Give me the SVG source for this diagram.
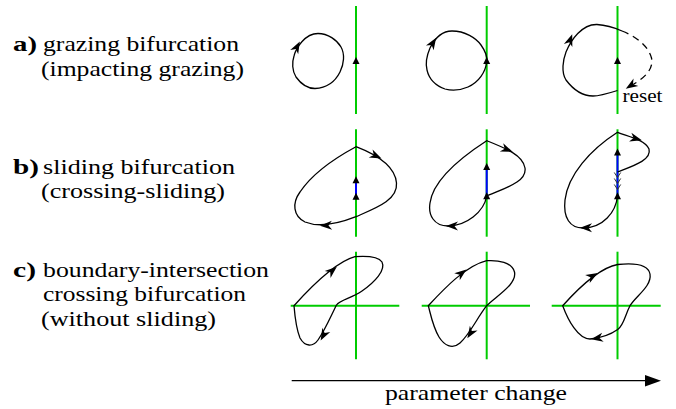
<svg xmlns="http://www.w3.org/2000/svg" xmlns:xlink="http://www.w3.org/1999/xlink" width="676" height="409" viewBox="0 0 676 409">
<style>
.t{font-family:'Liberation Serif','DejaVu Serif','Times New Roman',serif;font-size:22px;fill:#000}
.b{font-weight:bold}
.g{stroke:#00cc00;stroke-width:2;fill:none}
.bl{stroke:#0000ff;stroke-width:2;fill:none}
.c{stroke:#000;stroke-width:1.3;fill:none}
.d{stroke:#000;stroke-width:1.3;fill:none;stroke-dasharray:7 5}
.ch{stroke:#333;stroke-width:1;fill:none}
</style>
<defs>
<path id="ah" d="M 5,0 L -7,-4.5 L -3.5,0 L -7,4.5 Z" fill="#000"/>
<path id="tr" d="M 0,-3.8 L 3.5,3.2 L -3.5,3.2 Z" fill="#000"/>
</defs>
<rect width="676" height="409" fill="#fff"/>

<g id="labels">
<text class="t b" x="13" y="51" textLength="24" lengthAdjust="spacingAndGlyphs">a)</text>
<text class="t" x="43" y="51" textLength="196" lengthAdjust="spacingAndGlyphs">grazing bifurcation</text>
<text class="t" x="41" y="75.5" textLength="203" lengthAdjust="spacingAndGlyphs">(impacting grazing)</text>
<text class="t b" x="13" y="173.5" textLength="26" lengthAdjust="spacingAndGlyphs">b)</text>
<text class="t" x="43" y="173.5" textLength="192" lengthAdjust="spacingAndGlyphs">sliding bifurcation</text>
<text class="t" x="41" y="198" textLength="184" lengthAdjust="spacingAndGlyphs">(crossing-sliding)</text>
<text class="t b" x="13" y="276.5" textLength="23" lengthAdjust="spacingAndGlyphs">c)</text>
<text class="t" x="43" y="276.5" textLength="226" lengthAdjust="spacingAndGlyphs">boundary-intersection</text>
<text class="t" x="43" y="301" textLength="203" lengthAdjust="spacingAndGlyphs">crossing bifurcation</text>
<text class="t" x="41" y="325.5" textLength="175" lengthAdjust="spacingAndGlyphs">(without sliding)</text>
</g>

<g id="a1">
<line class="g" x1="356" y1="6" x2="356" y2="114"/>
<path class="c" d="M 318,33.5 C 328,33.5 337,40 341,47 C 345,54 344,64 340,72 C 335,82 326,88 315,88.5 C 307,88.5 301,84 296,77 C 292,71 292,62 294,56 C 296,48 305,33.5 318,33.5 Z"/>
<use xlink:href="#ah" transform="translate(297.5,46) rotate(-62)"/>
<use xlink:href="#tr" transform="translate(356,60.7)"/>
</g>

<g id="a2">
<line class="g" x1="486.7" y1="6" x2="486.7" y2="114"/>
<path class="c" d="M 452,31 C 465,31 476,38 481,45 C 486,52 487.5,57 486.7,62 C 485.5,72 479,82 468,87 C 461,90 452,91 445,89 C 436,86 429,79 427,70 C 425,62 427,55 430,48 C 435,38 442,31 452,31 Z"/>
<use xlink:href="#ah" transform="translate(433.5,42) rotate(-58)"/>
<use xlink:href="#tr" transform="translate(486.7,60.7)"/>
</g>

<g id="a3">
<line class="g" x1="617.5" y1="6" x2="617.5" y2="114"/>
<path class="c" d="M 617.5,90.5 C 608,93.5 600,96 593,96 C 580,96 572,88 566,80 C 561,72 563,60 566,52 C 571,40 582,24 597,24.5 C 606,25 613,27 622,31"/>
<path class="d" d="M 622,31 C 635,36 648,45 651.5,58 C 654,70 643,79 632,85"/>
<use xlink:href="#ah" transform="translate(630,86) rotate(148)"/>
<use xlink:href="#ah" transform="translate(570.5,39) rotate(-70)"/>
<use xlink:href="#tr" transform="translate(617.5,60.7)"/>
<text class="t" x="622.5" y="101.5" textLength="40" lengthAdjust="spacingAndGlyphs" style="font-size:19px">reset</text>
</g>

<g id="b1">
<line class="g" x1="356" y1="129.3" x2="356" y2="236.7"/>
<line class="bl" x1="356" y1="180" x2="356" y2="196.5"/>
<path class="c" d="M 356,146.7 C 375,154 395,165 396.5,183 C 398,200 376,208 356,216.7 C 340,223 320,228 305,222 C 293,216 292,203 300,192 C 312,174 335,158 356,146.7 Z"/>
<use xlink:href="#ah" transform="translate(377,156.5) rotate(25)"/>
<use xlink:href="#ah" transform="translate(325,225.5) rotate(178)"/>
<use xlink:href="#tr" transform="translate(356,180)"/>
<use xlink:href="#tr" transform="translate(356,196.5)"/>
</g>

<g id="b2">
<line class="g" x1="486.7" y1="129.3" x2="486.7" y2="236.7"/>
<line class="bl" x1="486.7" y1="166.7" x2="486.7" y2="196"/>
<path class="c" d="M 486.7,196 C 484,212 466,226 448,226 C 434,226 428,215 430,203 C 433,180 460,158 486.7,140.7 C 505,148 523,155 525,168 C 527,182 505,188 486.7,196 Z"/>
<use xlink:href="#ah" transform="translate(508,150) rotate(22)"/>
<use xlink:href="#ah" transform="translate(451,226) rotate(180)"/>
<use xlink:href="#tr" transform="translate(486.7,166.7)"/>
<use xlink:href="#tr" transform="translate(486.7,196)"/>
</g>

<g id="b3">
<line class="g" x1="617.5" y1="129.3" x2="617.5" y2="236.7"/>
<line class="bl" x1="617.5" y1="152.3" x2="617.5" y2="196"/>
<path class="c" d="M 617.5,196 C 616,212 603,228 583,228 C 570,228 563,218 565,200 C 568,175 590,150 617.5,132.3 C 630,137 645,140 649,149 C 652,160 633,166 617.5,172"/>
<polyline class="ch" points="614.3,172.5 617.5,177.5 620.7,172.5"/>
<polyline class="ch" points="614.3,178.5 617.5,183.5 620.7,178.5"/>
<polyline class="ch" points="614.3,184.5 617.5,189.5 620.7,184.5"/>
<use xlink:href="#ah" transform="translate(637,139) rotate(15)"/>
<use xlink:href="#ah" transform="translate(585,227.8) rotate(180)"/>
<use xlink:href="#tr" transform="translate(617.5,152.3)"/>
<use xlink:href="#tr" transform="translate(617.5,196)"/>
</g>

<g id="c1">
<line class="g" x1="356" y1="251.7" x2="356" y2="359.3"/>
<line class="g" x1="290.7" y1="305.7" x2="399.3" y2="305.7"/>
<path class="c" d="M 294,305.7 C 310,288 335,262 355,256.7 C 365,256 378,256 382,262 C 386,270 375,282 362,291 C 352,298 340,300 336.5,305 C 330,318 325,330 318,340 C 313,347 305,347 300,338 C 296,328 295,318 294,305.7 Z"/>
<use xlink:href="#ah" transform="translate(333,270) rotate(-40)"/>
<use xlink:href="#ah" transform="translate(323,336) rotate(118)"/>
</g>

<g id="c2">
<line class="g" x1="486.7" y1="251.7" x2="486.7" y2="359.3"/>
<line class="g" x1="421.7" y1="305.7" x2="530" y2="305.7"/>
<path class="c" d="M 428.3,305.7 C 443,290 465,266 486.7,260.7 C 498,260 512,262 514.5,272 C 517,284 498,295 486.7,305.7 C 477,318 470,334 460,343 C 452,350 444,345 439,337 C 433,327 431,316 428.3,305.7 Z"/>
<use xlink:href="#ah" transform="translate(462.5,272.5) rotate(-38)"/>
<use xlink:href="#ah" transform="translate(470,334) rotate(122)"/>
</g>

<g id="c3">
<line class="g" x1="617.5" y1="251.7" x2="617.5" y2="359.3"/>
<line class="g" x1="551.7" y1="305.7" x2="660.7" y2="305.7"/>
<path class="c" d="M 562.7,305.7 C 575,292 598,268 617.7,264.5 C 632,263 648,263 650,274 C 652,286 636,296 630,305.7 C 625,315 624,325 617.7,329.5 C 610,335 600,338 590,339 C 578,339 568,320 562.7,305.7 Z"/>
<use xlink:href="#ah" transform="translate(593.5,275.5) rotate(-30)"/>
<use xlink:href="#ah" transform="translate(596,338.5) rotate(170)"/>
</g>

<g id="connectors">
<line x1="291.7" y1="380.7" x2="648" y2="380.7" stroke="#000" stroke-width="1.3"/>
<path d="M 661,380.7 L 645,375 L 645,386.4 Z" fill="#000"/>
<text class="t" x="385" y="400" textLength="182" lengthAdjust="spacingAndGlyphs">parameter change</text>
</g>
</svg>
